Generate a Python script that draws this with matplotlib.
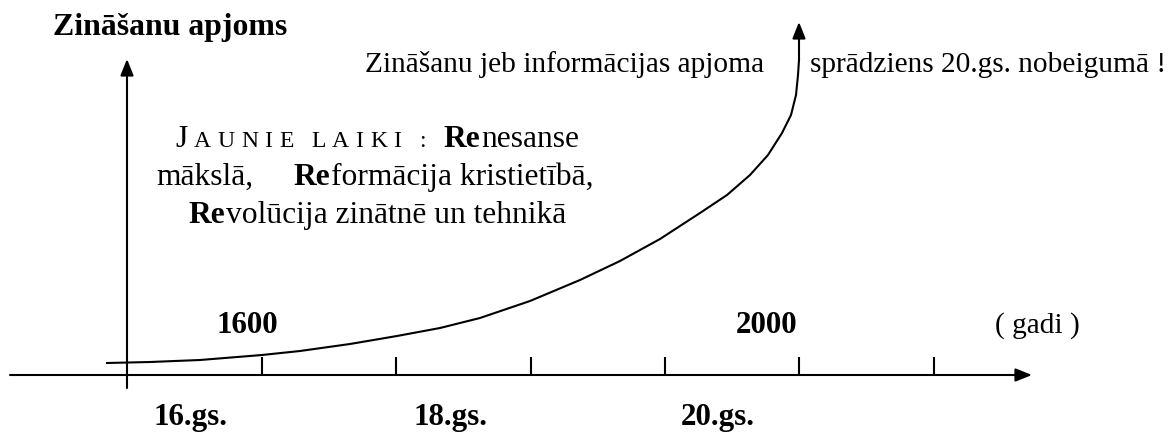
import matplotlib
matplotlib.use('Agg')
import matplotlib.pyplot as plt

plt.rcParams['font.family'] = ['Liberation Serif', 'DejaVu Serif']

# knowledge-volume curve (pixel grid, y grows downward)
curve_x = [107, 150, 200, 262, 300, 350, 397, 440, 480, 530, 580, 620, 660,
           700, 727, 750, 768, 782, 791, 796, 798, 799]
curve_y = [363, 362, 360, 355, 351, 344, 336, 328, 318, 301, 280, 261, 239,
           213, 195, 175, 155, 133, 115, 95, 75, 60]
curve_tip = (799, 22)

tick_x = [262, 396, 531, 665, 799, 934]
century_labels = ['16.gs.', '18.gs.', '20.gs.']
century_x = [190, 450, 718]
year_labels = ['1600', '2000']
year_x = [247, 767]

FS = 21.2    # regular text, top line
FSB = 22.3   # bold labels
FST = 22.9   # title
FSN = 22.7   # "Jaunie laiki" block
FSC = 17     # small caps

fig = plt.figure(figsize=(11.7, 4.32), dpi=100)
ax = fig.add_axes([0, 0, 1, 1])
ax.set_xlim(0, 1170)
ax.set_ylim(432, 0)
ax.axis('off')

arrow = dict(arrowstyle='-|>,head_length=0.55,head_width=0.22', color='black',
             lw=1.5, mutation_scale=18, shrinkA=0, shrinkB=0)

# axes
ax.annotate('', xy=(1032, 375), xytext=(10, 375), arrowprops=arrow)
ax.annotate('', xy=(127, 59), xytext=(127, 388), arrowprops=arrow)
for x in tick_x:
    ax.plot([x, x], [357, 375], color='black', lw=1.5, solid_capstyle='butt')

# curve
ax.plot(curve_x, curve_y, color='black', lw=1.5, solid_joinstyle='round')
ax.annotate('', xy=curve_tip, xytext=(curve_x[-1], curve_y[-1]), arrowprops=arrow)

# labels
ax.text(53, 35, 'Zināšanu apjoms', fontsize=FST, fontweight='bold', va='baseline')
ax.text(365, 72, 'Zināšanu jeb informācijas apjoma', fontsize=FS, va='baseline')
ax.text(810, 72, 'sprādziens 20.gs. nobeigumā !', fontsize=FS, va='baseline')

for lab, x in zip(year_labels, year_x):
    ax.text(x, 333, lab, fontsize=FSB, fontweight='bold', ha='center', va='baseline')
ax.text(1037, 333, '( gadi )', fontsize=FS, ha='center', va='baseline')
for lab, x in zip(century_labels, century_x):
    ax.text(x, 425, lab, fontsize=FSB, fontweight='bold', ha='center', va='baseline')

# mixed bold / regular runs on one line
renderer = fig.canvas.get_renderer()
inv = ax.transData.inverted()


def run(x, y, parts):
    for s, size, bold, track in parts:
        chars = list(s) if track else [s]
        for ch in chars:
            if ch == ' ':
                x += size * 0.25 * 100 / 72 + track
                continue
            t = ax.text(x, y, ch, fontsize=size, va='baseline',
                        fontweight='bold' if bold else 'normal')
            bb = t.get_window_extent(renderer)
            x = inv.transform((bb.x1, bb.y0))[0] + track + 1
    return x


run(175, 147, [('J', FSN, False, 5.5), ('AUNIE LAIKI :', FSC, False, 5.5)])
run(443, 147, [('Re', FSN, True, 0), ('nesanse', FSN, False, 0)])
run(156, 185, [('mākslā,', FSN, False, 0)])
run(293, 185, [('Re', FSN, True, 0), ('formācija kristietībā,', FSN, False, 0)])
run(188, 223, [('Re', FSN, True, 0), ('volūcija zinātnē un tehnikā', FSN, False, 0)])

fig.savefig('out.png', dpi=100)
